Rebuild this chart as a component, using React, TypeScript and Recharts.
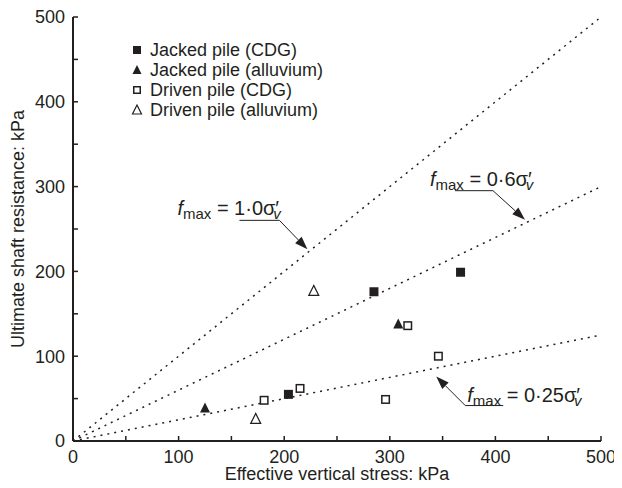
import React from 'react';
import { ScatterChart, Scatter, XAxis, YAxis, ReferenceDot } from 'recharts';

const jackedCDG = [{ x: 204, y: 55 }, { x: 285, y: 176 }, { x: 367, y: 199 }];
const jackedAlluvium = [{ x: 125, y: 39 }, { x: 308, y: 138 }];
const drivenCDG = [{ x: 181, y: 48 }, { x: 215, y: 62 }, { x: 296, y: 49 }, { x: 317, y: 136 }, { x: 346, y: 100 }];
const drivenAlluvium = [{ x: 173, y: 26 }, { x: 228, y: 177 }];

const line10 = [{ x: 0, y: 0 }, { x: 500, y: 500 }];
const line06 = [{ x: 0, y: 0 }, { x: 500, y: 300 }];
const line025 = [{ x: 0, y: 0 }, { x: 500, y: 125 }];

const axisTicks = [0, 50, 100, 150, 200, 250, 300, 350, 400, 450, 500];
const legendLabels = ['Jacked pile (CDG)', 'Jacked pile (alluvium)', 'Driven pile (CDG)', 'Driven pile (alluvium)'];
const legendKinds = ['fsq', 'ftri', 'osq', 'otri'];

const annTips = [{ x: 222, y: 226 }, { x: 428, y: 261 }, { x: 344, y: 76 }];
const annCoefs = ['1·0', '0·6', '0·25'];

const INK = '#231f20';
const FONT = '"Liberation Sans", Arial, Helvetica, sans-serif';

function Marker({ kind, cx, cy, s }: { kind: string; cx: number; cy: number; s: number }) {
  const h = s / 2;
  if (kind === 'fsq') return <rect x={cx - h} y={cy - h} width={s} height={s} fill={INK} />;
  if (kind === 'osq') return <rect x={cx - h + 0.75} y={cy - h + 0.75} width={s - 1.5} height={s - 1.5} fill="#fff" stroke={INK} strokeWidth={1.5} />;
  const pts = `${cx},${cy - h - 1} ${cx - h - 0.5},${cy + h} ${cx + h + 0.5},${cy + h}`;
  if (kind === 'ftri') return <polygon points={pts} fill={INK} />;
  return <polygon points={pts} fill="#fff" stroke={INK} strokeWidth={1.2} />;
}

const shapeFor = (kind: string) => (p: any) => <Marker kind={kind} cx={p.cx} cy={p.cy} s={9} />;

function Arrow({ x1, y1, x2, y2 }: { x1: number; y1: number; x2: number; y2: number }) {
  const dx = x2 - x1, dy = y2 - y1;
  const len = Math.sqrt(dx * dx + dy * dy);
  const ux = dx / len, uy = dy / len;
  const hl = 13, hw = 4.5;
  const bx = x2 - ux * hl, by = y2 - uy * hl;
  return (
    <g>
      <line x1={x1} y1={y1} x2={bx} y2={by} stroke={INK} strokeWidth={1} />
      <polygon points={`${x2},${y2} ${bx - uy * hw},${by + ux * hw} ${bx + uy * hw},${by - ux * hw}`} fill={INK} />
    </g>
  );
}

function FLabel({ x, y, coef }: { x: number; y: number; coef: string }) {
  return (
    <text x={x} y={y} fontFamily={FONT} fontSize={20} fill={INK}>
      <tspan fontStyle="italic">f</tspan>
      <tspan fontSize={15} dy={4}>max</tspan>
      <tspan dy={-4}>{'\u00a0=\u00a0' + coef + 'σ′'}</tspan>
      <tspan fontSize={15} fontStyle="italic" dx={-6} dy={4}>v</tspan>
    </text>
  );
}

const annShape = (i: number) => (p: any) => {
  const cx = p.cx, cy = p.cy;
  if (i === 0 || i === 1) {
    const tx = i === 0 ? -130 : -95;
    const ul0 = i === 0 ? -68 : -70;
    const ul1 = i === 0 ? -28 : -32;
    return (
      <g>
        <FLabel x={cx + tx} y={cy - 34} coef={annCoefs[i]} />
        <line x1={cx + ul0} y1={cy - 29} x2={cx + ul1} y2={cy - 29} stroke={INK} strokeWidth={1} />
        <Arrow x1={cx + ul1} y1={cy - 29} x2={cx} y2={cy} />
      </g>
    );
  }
  return (
    <g>
      <FLabel x={cx + 31} y={cy + 25} coef={annCoefs[i]} />
      <line x1={cx + 29} y1={cy + 29} x2={cx + 67} y2={cy + 29} stroke={INK} strokeWidth={1} />
      <Arrow x1={cx + 29} y1={cy + 29} x2={cx} y2={cy} />
    </g>
  );
};

const fmt = (v: number) => (v % 100 === 0 ? String(v) : '');
const dotted = { stroke: INK, strokeWidth: 1.5, strokeDasharray: '2 5' };
const none = () => <g />;

export default function App() {
  return (
    <div style={{ position: 'relative', width: 614, height: 476, background: '#fff' }}>
      <ScatterChart width={614} height={476} margin={{ top: 9, right: 21, bottom: 5, left: 5 }}>
        <XAxis
          type="number"
          dataKey="x"
          domain={[0, 500]}
          ticks={axisTicks}
          tickFormatter={fmt}
          interval={0}
          tickSize={-5}
          tickMargin={14}
          height={38}
          axisLine={{ stroke: INK, strokeWidth: 2 }}
          tickLine={{ stroke: INK, strokeWidth: 1.5 }}
          tick={{ fill: INK, fontSize: 18, fontFamily: FONT }}
          label={{ value: 'Effective vertical stress: kPa', position: 'insideBottom', offset: -1, fill: INK, fontSize: 18, fontFamily: FONT }}
        />
        <YAxis
          type="number"
          dataKey="y"
          domain={[0, 500]}
          ticks={axisTicks}
          tickFormatter={fmt}
          interval={0}
          tickSize={-5}
          tickMargin={13}
          width={60}
          axisLine={{ stroke: INK, strokeWidth: 2 }}
          tickLine={{ stroke: INK, strokeWidth: 1.5 }}
          tick={{ fill: INK, fontSize: 18, fontFamily: FONT }}
          label={{ value: 'Ultimate shaft resistance: kPa', angle: -90, position: 'insideLeft', offset: 5, style: { textAnchor: 'middle' }, fill: INK, fontSize: 18, fontFamily: FONT }}
        />
        <Scatter data={line10} line={dotted} shape={none} legendType="none" isAnimationActive={false} />
        <Scatter data={line06} line={dotted} shape={none} legendType="none" isAnimationActive={false} />
        <Scatter data={line025} line={dotted} shape={none} legendType="none" isAnimationActive={false} />
        <Scatter data={jackedCDG} shape={shapeFor('fsq')} isAnimationActive={false} />
        <Scatter data={jackedAlluvium} shape={shapeFor('ftri')} isAnimationActive={false} />
        <Scatter data={drivenCDG} shape={shapeFor('osq')} isAnimationActive={false} />
        <Scatter data={drivenAlluvium} shape={shapeFor('otri')} isAnimationActive={false} />
        {annTips.map((t, i) => (
          <ReferenceDot key={i} x={t.x} y={t.y} r={0} shape={annShape(i)} />
        ))}
      </ScatterChart>
      <div style={{ position: 'absolute', left: 122, top: 32, fontFamily: FONT, fontSize: 18, color: INK, lineHeight: '20px' }}>
        {legendLabels.map((lab, i) => (
          <div key={lab} style={{ display: 'flex', alignItems: 'center', height: 20, whiteSpace: 'nowrap' }}>
            <svg width={20} height={20}>
              <Marker kind={legendKinds[i]} cx={7} cy={10} s={8} />
            </svg>
            <span>{lab}</span>
          </div>
        ))}
      </div>
    </div>
  );
}
